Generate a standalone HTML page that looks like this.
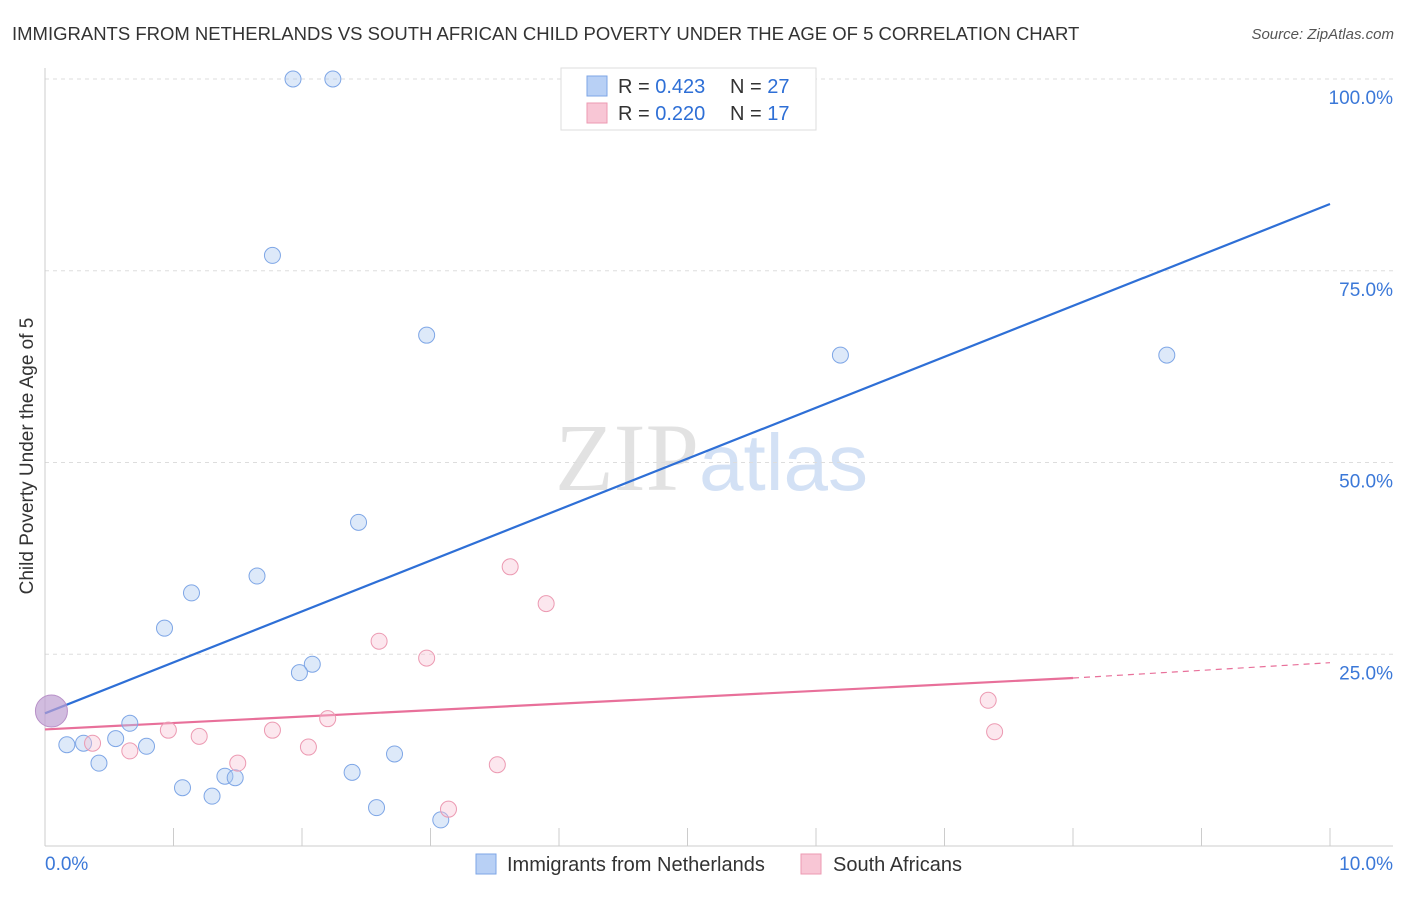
<!DOCTYPE html>
<html><head><meta charset="utf-8">
<style>
body{margin:0;background:#fff;font-family:"Liberation Sans",sans-serif;}
svg text{font-family:"Liberation Sans",sans-serif;}
</style></head>
<body>
<svg id="chart" width="1406" height="892" xmlns="http://www.w3.org/2000/svg">
<text x="12" y="40" font-size="18.5" fill="#333">IMMIGRANTS FROM NETHERLANDS VS SOUTH AFRICAN CHILD POVERTY UNDER THE AGE OF 5 CORRELATION CHART</text>
<text x="1394" y="39" font-size="15" fill="#555" text-anchor="end" font-style="italic">Source: ZipAtlas.com</text>
<text transform="translate(33,456) rotate(-90)" font-size="19" fill="#333" text-anchor="middle">Child Poverty Under the Age of 5</text>
<text x="555" y="490" font-size="96"><tspan fill="#e2e2e2" font-family="Liberation Serif">ZIP</tspan><tspan fill="#d3e1f5" font-size="80">atlas</tspan></text>
<g id="grid"></g><g id="axes"></g><g id="lines"></g><g id="points"></g>
<g>
<rect x="561" y="68" width="255" height="62" fill="#fff" stroke="#ddd"/>
<rect x="587" y="76" width="20" height="20" fill="#b8d0f5" stroke="#7ea6e6"/>
<text x="618" y="93" font-size="20" fill="#333">R = <tspan fill="#2e6fd6">0.423</tspan></text>
<text x="730" y="93" font-size="20" fill="#333">N = <tspan fill="#2e6fd6">27</tspan></text>
<rect x="587" y="103" width="20" height="20" fill="#f8c6d5" stroke="#ec9ab2"/>
<text x="618" y="120" font-size="20" fill="#333">R = <tspan fill="#2e6fd6">0.220</tspan></text>
<text x="730" y="120" font-size="20" fill="#333">N =  <tspan fill="#2e6fd6">17</tspan></text>
</g>
<g>
<rect x="476" y="854" width="20" height="20" fill="#b8d0f5" stroke="#7ea6e6"/>
<text x="507" y="871" font-size="20" fill="#333">Immigrants from Netherlands</text>
<rect x="801" y="854" width="20" height="20" fill="#f8c6d5" stroke="#ec9ab2"/>
<text x="833" y="871" font-size="20" fill="#333">South Africans</text>
</g>
</svg>
<script>
const yTicks=[25,50,75,100];
const yTickLabels=["25.0%","50.0%","75.0%","100.0%"];
const xTickLabels=["0.0%","10.0%"];
const blueX=[1.93,2.24,1.77,2.97,6.19,8.73,2.44,1.65,1.14,0.93,2.08,1.98,0.66,0.55,0.17,0.30,0.79,0.42,2.72,2.39,1.40,1.48,1.07,1.30,2.58,3.08];
const blueY=[100,100,77.0,66.6,64.0,64.0,42.2,35.2,33.0,28.4,23.7,22.6,16.0,14.0,13.2,13.4,13.0,10.8,12.0,9.6,9.1,8.9,7.6,6.5,5.0,3.4];
const pinkX=[3.62,3.90,2.60,2.97,7.34,2.20,1.77,0.96,1.20,0.37,0.66,2.05,1.50,3.52,3.14,7.39];
const pinkY=[36.4,31.6,26.7,24.5,19.0,16.6,15.1,15.1,14.3,13.4,12.4,12.9,10.8,10.6,4.8,14.9];
const bigPoint=[0.05,17.6];
const blueTrend=[17.3,83.7];
const pinkTrend=[15.2,21.9,23.9];
const pinkSolidEnd=8;
const X=v=>45+v*128.5, Y=v=>846-v*7.67;
const NS="http://www.w3.org/2000/svg";
function mk(p,t,a){const e=document.createElementNS(NS,t);for(const k in a)e.setAttribute(k,a[k]);p.appendChild(e);return e;}
const grid=document.getElementById('grid'),axes=document.getElementById('axes'),lines=document.getElementById('lines'),pts=document.getElementById('points');
yTicks.forEach((t,i)=>{
 const l=mk(grid,'line',{x1:45,x2:1393,y1:Y(t),y2:Y(t),stroke:'#ddd','stroke-dasharray':'4,4'});
 
 
 const tx=mk(grid,'text',{x:1393,y:Y(t)+25,'font-size':19,fill:'#3b78d8','text-anchor':'end'});tx.textContent=yTickLabels[i];
 
 
});
mk(axes,'line',{x1:45,x2:45,y1:68,y2:846,stroke:'#ccc'});
mk(axes,'line',{x1:45,x2:1393,y1:846,y2:846,stroke:'#ccc'});
for(let i=0;i<=10;i++){const t=mk(axes,'line',{x1:X(i),x2:X(i),y1:828,y2:846,stroke:'#ccc'});
 
 }
[[0,'start',45],[10,'end',1393]].forEach((d,i)=>{const t=mk(axes,'text',{x:d[2],y:870,'font-size':19,fill:'#3b78d8','text-anchor':d[1]});t.textContent=xTickLabels[i];
 
 });
const bl=mk(lines,'line',{x1:X(0),y1:Y(blueTrend[0]),x2:X(10),y2:Y(blueTrend[1]),stroke:'#2e6fd6','stroke-width':2.2});


const pl=mk(lines,'line',{x1:X(0),y1:Y(pinkTrend[0]),x2:X(pinkSolidEnd),y2:Y(pinkTrend[1]),stroke:'#e8709a','stroke-width':2.2});


const pd=mk(lines,'line',{x1:X(pinkSolidEnd),y1:Y(pinkTrend[1]),x2:X(10),y2:Y(pinkTrend[2]),stroke:'#e8709a','stroke-width':1.2,'stroke-dasharray':'6,5'});


blueX.forEach((x,i)=>{const c=mk(pts,'circle',{cx:X(x),cy:Y(blueY[i]),r:8,fill:'rgba(170,200,240,0.4)',stroke:'#7ea6e6','stroke-width':1});
 
 });
pinkX.forEach((x,i)=>{const c=mk(pts,'circle',{cx:X(x),cy:Y(pinkY[i]),r:8,fill:'rgba(248,195,212,0.4)',stroke:'#ec9ab2','stroke-width':1});
 
 });
const bp=mk(pts,'circle',{cx:X(bigPoint[0]),cy:Y(bigPoint[1]),r:16,fill:'rgba(190,160,210,0.7)',stroke:'#b890c8','stroke-width':1});


</script>
</body></html>
